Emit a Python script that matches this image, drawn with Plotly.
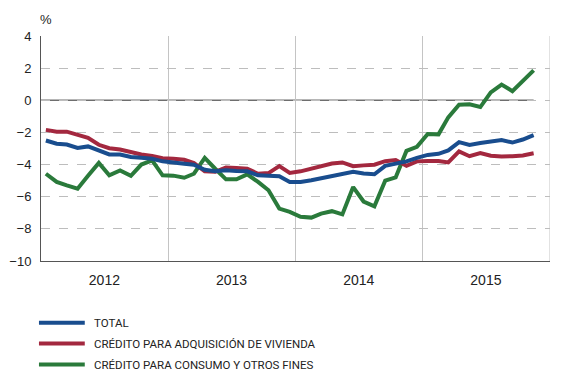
import pandas as pd
import plotly.graph_objects as go

# Monthly data, Jan 2012 - Nov 2015 (%)
months = (pd.date_range("2012-01-01", periods=47, freq="MS") + pd.Timedelta(days=14)).strftime("%Y-%m-%d").tolist()

total = [-2.5, -2.7, -2.75, -2.96, -2.87, -3.12, -3.37, -3.37, -3.53, -3.58, -3.64, -3.8,
         -3.85, -3.95, -4.01, -4.32, -4.42, -4.36, -4.4, -4.42, -4.67, -4.73, -4.73, -5.08,
         -5.08, -4.98, -4.85, -4.72, -4.58, -4.45, -4.55, -4.6, -4.08, -3.97, -3.8, -3.58,
         -3.4, -3.33, -3.12, -2.6, -2.78, -2.66, -2.57, -2.48, -2.63, -2.44, -2.17]

vivienda = [-1.84, -1.95, -1.95, -2.13, -2.34, -2.77, -2.98, -3.06, -3.23, -3.37, -3.47, -3.6,
            -3.64, -3.7, -3.91, -4.42, -4.45, -4.18, -4.22, -4.26, -4.57, -4.53, -4.1, -4.52,
            -4.42, -4.25, -4.12, -3.93, -3.87, -4.1, -4.05, -4.01, -3.79, -3.72, -4.08, -3.8,
            -3.77, -3.78, -3.87, -3.18, -3.48, -3.28, -3.45, -3.5, -3.48, -3.43, -3.3]

consumo = [-4.57, -5.08, -5.3, -5.5, -4.7, -3.9, -4.67, -4.36, -4.7, -4.0, -3.74, -4.67,
           -4.69, -4.82, -4.57, -3.58, -4.26, -4.92, -4.92, -4.61, -5.08, -5.6, -6.74, -6.94,
           -7.25, -7.3, -7.05, -6.9, -7.1, -5.4, -6.3, -6.6, -5.0, -4.8, -3.15, -2.9,
           -2.1, -2.12, -1.06, -0.28, -0.25, -0.42, 0.49, 0.98, 0.57, 1.2, 1.86]

series_names = ["TOTAL", "CRÉDITO PARA ADQUISICIÓN DE VIVIENDA", "CRÉDITO PARA CONSUMO Y OTROS FINES"]
series_values = [total, vivienda, consumo]
series_colors = ["#194d8e", "#a3283f", "#2a7a3b"]

year_labels = ["2012", "2013", "2014", "2015"]
year_mid = [f"{y}-07-01" for y in year_labels]
year_bounds = ["2013-01-01", "2014-01-01", "2015-01-01", "2016-01-01"]
x_start, x_end = "2012-01-01", "2016-01-01"

fig = go.Figure()
# zero reference line up to last data point
fig.add_shape(type="line", xref="x", yref="y", x0=x_start, x1=months[-1], y0=0, y1=0,
              line=dict(color="#6e6e6e", width=1.5), layer="below")

for name, vals, col in zip(series_names[::-1], series_values[::-1], series_colors[::-1]):
    fig.add_trace(go.Scatter(x=months, y=vals, mode="lines", name=name,
                             line=dict(color=col, width=4), showlegend=False))

# custom legend
legend_y = [-0.274, -0.367, -0.46]
for name, col, ly in zip(series_names, series_colors, legend_y):
    fig.add_shape(type="line", xref="paper", yref="paper", x0=-0.004, x1=0.086, y0=ly, y1=ly,
                  line=dict(color=col, width=4))
    fig.add_annotation(xref="paper", yref="paper", x=0.1, y=ly, text=name, showarrow=False,
                       xanchor="left", yanchor="middle",
                       font=dict(family="Roboto", size=11.5, color="#222"))

fig.add_annotation(xref="paper", yref="paper", x=0.01, y=1.075, text="%", showarrow=False,
                   xanchor="center", yanchor="middle",
                   font=dict(family="Liberation Sans", size=13, color="#222"))

# page body has an 8px default margin: size figure so plot area lands where the reference has it
fig.update_layout(
    width=554, height=376,
    margin=dict(l=33, r=12, t=28, b=123),
    paper_bgcolor="white", plot_bgcolor="white",
    font=dict(family="Liberation Sans", size=14, color="#222"),
    xaxis=dict(
        type="date", range=[x_start, x_end], automargin=False,
        tickmode="array", tickvals=year_mid, ticktext=year_labels,
        ticks="", showgrid=False, zeroline=False,
        showline=True, linecolor="#555", linewidth=1,
        ticklabelstandoff=6,
        minor=dict(tickmode="array", tickvals=year_bounds, showgrid=True,
                   gridcolor="#c4c4c4", gridwidth=1, ticks=""),
        tickfont=dict(size=14),
    ),
    yaxis=dict(
        range=[-10, 4], dtick=2, tick0=0, automargin=False,
        showgrid=True, gridcolor="#bdbdbd", griddash="dash", gridwidth=1,
        zeroline=False, showline=True, linecolor="#555", linewidth=1,
        ticks="", ticklabelstandoff=6,
        tickfont=dict(size=13),
    ),
)
fig.add_shape(type="line", xref="x", yref="paper", x0=x_end, x1=x_end, y0=0, y1=1,
              line=dict(color="#c4c4c4", width=1), layer="below")

fig.write_html("out.html")
